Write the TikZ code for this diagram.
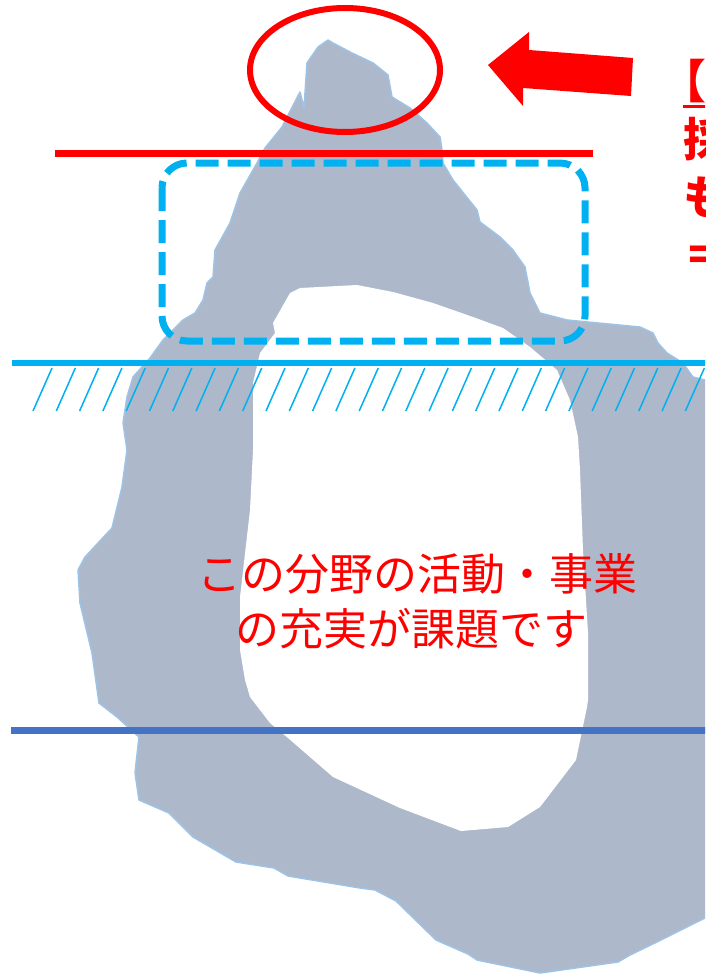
\documentclass[tikz,border=0pt]{standalone}
\usepackage{fontspec}
\newfontfamily\jpfont{Noto Sans CJK JP}

\definecolor{bergfill}{HTML}{ADB9CA}
\definecolor{bergedge}{HTML}{9DC3E6}
\definecolor{seablue}{HTML}{00B0F0}
\definecolor{deepblue}{HTML}{4472C4}
\definecolor{alert}{HTML}{FF0000}

\begin{document}
\begin{tikzpicture}[
	x=1pt, y=-1pt,
	berg/.style = {fill=bergfill, draw=bergedge, line width=1.5pt, line join=round},
	hole/.style = {fill=white},
	ring/.style = {draw=alert, line width=6pt},
	zone/.style = {draw=seablue, line width=7pt, dash pattern=on 23pt off 9pt, rounded corners=25pt},
	hatch/.style = {draw=seablue, line width=1.5pt},
	msg/.style  = {text=alert, inner sep=0, font=\jpfont\fontsize{44}{54}\selectfont},
	side/.style = {text=alert, inner sep=0, anchor=base west, font=\jpfont\bfseries\fontsize{46}{58}\selectfont}
	]
	
	\useasboundingbox (0, 0) rectangle (705, 974);
	\clip (0, 0) rectangle (705, 974);
	
	% ===== ===== ===== ===== =====
	
	% Iceberg
	\path[berg] (328, 40) -- (333, 43) -- (352, 53) -- (373, 63) -- (388, 75) -- (392, 97)
		-- (410, 108) -- (427, 123) -- (440, 137) -- (442, 150) -- (443, 163) -- (453, 180)
		-- (477, 210) -- (480, 222) -- (500, 237) -- (513, 250) -- (525, 267) -- (530, 293)
		-- (540, 313) -- (567, 320) -- (640, 327) -- (653, 333) -- (658, 343) -- (667, 353)
		-- (683, 363) -- (693, 377) -- (705, 380) -- (720, 385) -- (720, 910) -- (705, 918)
		-- (661, 940) -- (630, 955) -- (618, 962) -- (540, 973) -- (477, 960) -- (468, 954)
		-- (436, 940) -- (396, 901) -- (375, 890) -- (360, 888) -- (288, 876) -- (274, 868)
		-- (236, 862) -- (193, 837) -- (169, 813) -- (139, 800) -- (135, 773) -- (139, 737)
		-- (117, 717) -- (99, 703) -- (92, 653) -- (80, 603) -- (78, 570) -- (85, 557)
		-- (112, 528) -- (122, 487) -- (127, 450) -- (123, 423) -- (127, 397) -- (133, 377)
		-- (150, 358) -- (163, 340) -- (183, 320) -- (195, 313) -- (203, 300) -- (207, 283)
		-- (213, 277) -- (215, 250) -- (230, 223) -- (240, 193) -- (257, 163) -- (265, 148)
		-- (282, 127) -- (300, 92) -- (304, 108) -- (307, 63) -- (318, 47) -- cycle;
	
	\path[hole] (300, 288) -- (357, 285) -- (393, 292) -- (433, 303) -- (473, 317) -- (503, 328)
		-- (530, 347) -- (557, 370) -- (570, 400) -- (578, 437) -- (580, 470) -- (583, 550)
		-- (588, 633) -- (588, 700) -- (587, 707) -- (576, 760) -- (540, 807) -- (508, 827)
		-- (461, 831) -- (400, 808) -- (333, 777) -- (288, 738) -- (270, 723) -- (250, 697)
		-- (245, 680) -- (240, 650) -- (240, 597) -- (250, 510) -- (253, 450) -- (253, 383)
		-- (260, 353) -- (275, 333) -- (273, 323) -- (290, 293) -- cycle;
	
	
	
	% ===== ===== ===== ===== =====
	
	% Lines
	\draw[alert, line width=7pt]	(55, 153.5)	--	(593, 153.5);
	\draw[zone]	(162, 163)	rectangle	(585, 341);
	
	\draw[seablue, line width=6pt]	(12, 363)	--	(710, 363);
	\foreach \i in {0,...,29}
		\draw[hatch] (52+\i*23.3, 368) -- (33+\i*23.3, 411);
	
	\draw[deepblue, line width=7pt]	(11, 730)	--	(710, 730);
	
	\draw[ring]	(345, 70)	ellipse	[x radius=95, y radius=62];
	
	% Arrow
	\fill[alert] (488, 65) -- (529, 32) -- (529, 50) -- (633, 58) -- (631, 96)
		-- (523, 88) -- (523, 106) -- cycle;
	
	
	
	% ===== ===== ===== ===== =====
	
	% Nodes
	\node[msg]	(msg1)	at	(417, 574)	{この分野の活動・事業};
	\node[msg]	(msg2)	at	(411, 629)	{の充実が課題です};
	
	\node[side]	(side1)	at	(660, 98)	{【};
	\node[side]	(side2)	at	(683, 156)	{採};
	\node[side]	(side3)	at	(683, 214)	{も};
	\node[side]	(side4)	at	(683, 272)	{＝};
	\draw[alert, line width=3pt]	([xshift=23pt, yshift=-8pt]side1.base west)	--	++(40, 0);
	
\end{tikzpicture}
\end{document}
